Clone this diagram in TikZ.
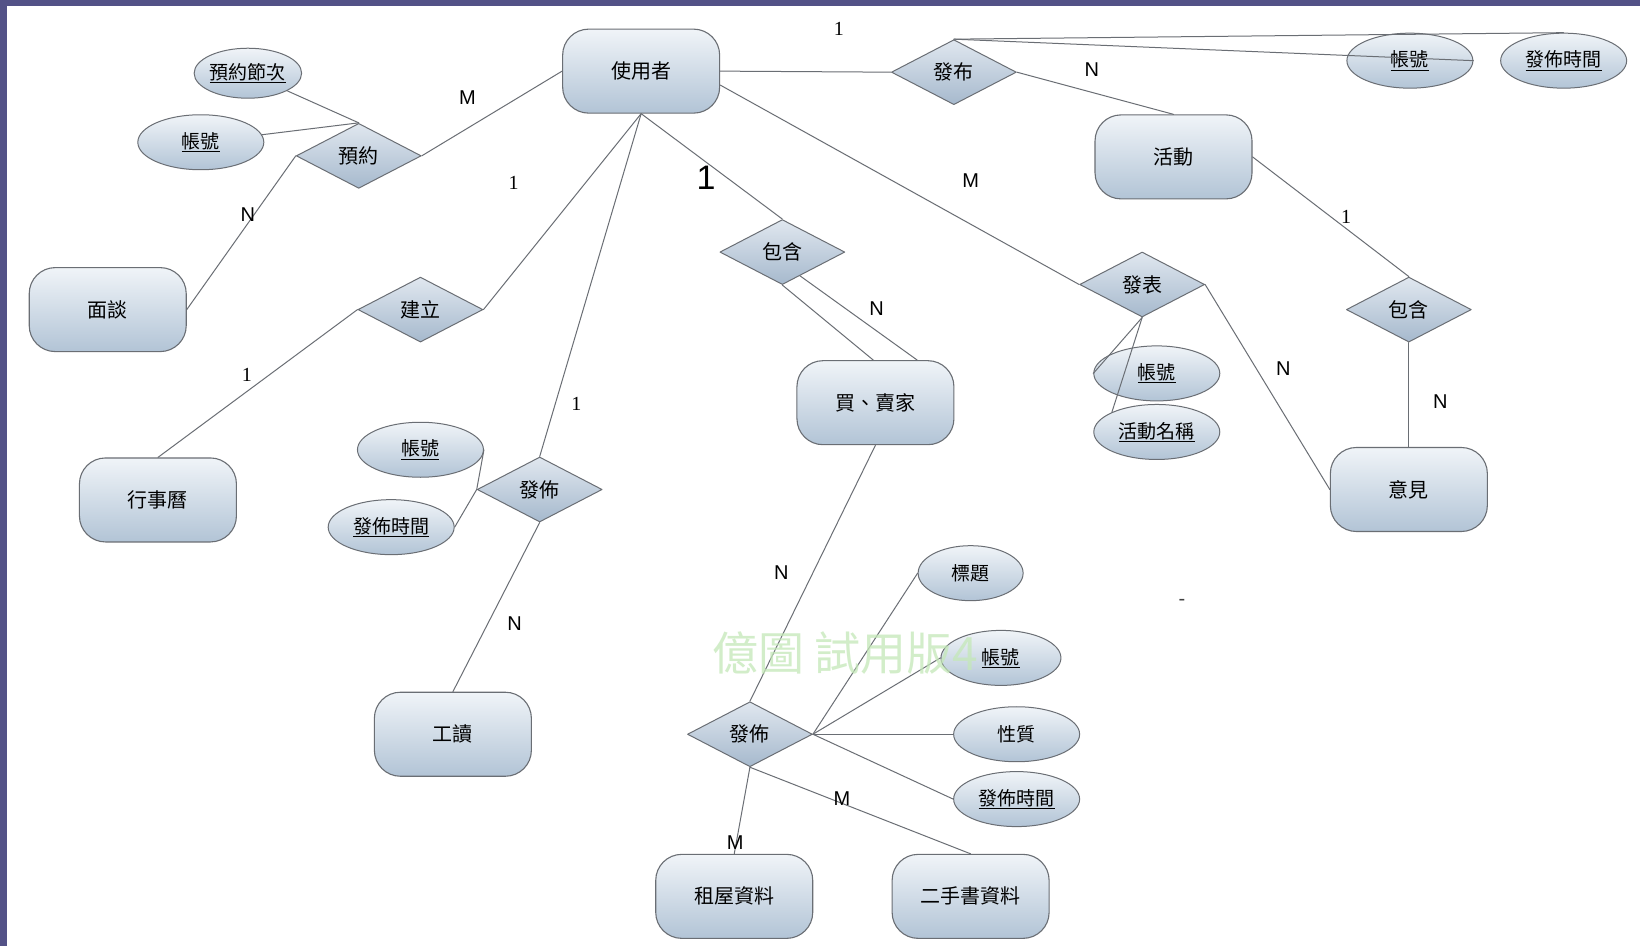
\documentclass[tikz,border=0pt]{standalone}
\usepackage{fontspec}
\newfontfamily\cjk{Noto Sans CJK TC}
\newfontfamily\lblsans{Liberation Sans}
\newfontfamily\lblserif{Liberation Serif}
\usetikzlibrary{shapes.geometric,calc}
\definecolor{frameblue}{RGB}{83,82,135}
\definecolor{edgegray}{RGB}{106,110,116}
\definecolor{shtop}{RGB}{240,244,248}
\definecolor{shbot}{RGB}{178,196,214}
\definecolor{dmtop}{RGB}{224,231,239}
\definecolor{dmbot}{RGB}{166,185,205}
\definecolor{marklight}{RGB}{196,232,184}
\tikzset{
    entity/.style={draw=edgegray, line width=1.1pt, rounded corners=26pt, top color=shtop, bottom color=shbot, minimum width=157pt, minimum height=84pt, font=\cjk\fontsize{20}{24}\selectfont},
    relation/.style={diamond, draw=edgegray, line width=1pt, top color=dmtop, bottom color=dmbot, minimum width=125pt, minimum height=65pt, inner sep=0pt, font=\cjk\fontsize{20}{24}\selectfont},
    attr/.style={ellipse, draw=edgegray, line width=1pt, top color=shtop, bottom color=shbot, minimum width=126pt, minimum height=55pt, inner sep=0pt, font=\cjk\fontsize{19}{23}\selectfont},
    link/.style={draw=edgegray, line width=1pt},
    card/.style={font=\lblsans\fontsize{20}{24}\selectfont},
    one/.style={font=\lblserif\fontsize{20}{24}\selectfont}
}
\begin{document}
\begin{tikzpicture}[x=1.046pt, y=-1.046pt, line join=round, line cap=round]
    \useasboundingbox (0,0) rectangle (1568,904);
    \fill[frameblue] (-5,-5) rectangle (1580,915);
    \fill[white] (6.5,6) rectangle (1580,915);
    % entities
    \node[entity] (user) at (613,68) {使用者};
    \node[entity] (activity) at (1122,150) {活動};
    \node[entity] (interview) at (103,296) {面談};
    \node[entity] (trader) at (837,385) {買、賣家};
    \node[entity] (calendar) at (151,478) {行事曆};
    \node[entity] (opinion) at (1347,468) {意見};
    \node[entity] (parttime) at (433,702) {工讀};
    \node[entity] (rental) at (702,857) {租屋資料};
    \node[entity] (usedbook) at (928,857) {二手書資料};
    % relations
    \node[relation] (reserve) at (343,149) {預約};
    \node[relation] (announce) at (912,69) {發布};
    \node[relation] (build) at (402,296) {建立};
    \node[relation] (containA) at (748,241) {包含};
    \node[relation] (post) at (1092,272) {發表};
    \node[relation] (containB) at (1347,296) {包含};
    \node[relation] (issueA) at (516,468) {發佈};
    \node[relation] (issueB) at (717,702) {發佈};
    % attributes
    \node[attr, minimum width=104pt, minimum height=50pt] (slot) at (237,70) {\underline{預約節次}};
    \node[attr] (acctA) at (192,136) {\underline{帳號}};
    \node[attr] (acctB) at (1348,58) {\underline{帳號}};
    \node[attr] (timeB) at (1495,58) {\underline{發佈時間}};
    \node[attr] (acctC) at (402,430) {\underline{帳號}};
    \node[attr] (timeC) at (374,504) {\underline{發佈時間}};
    \node[attr] (acctD) at (1106,357) {\underline{帳號}};
    \node[attr] (actname) at (1106,413) {\underline{活動名稱}};
    \node[attr, minimum width=105pt] (title) at (928,548) {標題};
    \node[attr, minimum width=120pt] (acctE) at (957,629) {\underline{帳號}};
    \node[attr] (nature) at (972,702) {性質};
    \node[attr] (timeE) at (972,764) {\underline{發佈時間}};
    % connectors
    \coordinate (cA) at ($(containA.south)!0.28!(containA.east)$);
    \coordinate (tA) at ($(trader.north)+(-2,0)$);
    \coordinate (tB) at ($(trader.north)+(40,0)$);
    \draw[link] (user.west) -- (reserve.east);
    \draw[link] (reserve.west) -- (interview.east);
    \draw[link] (slot) -- (reserve.north);
    \draw[link] (acctA) -- (reserve.north);
    \draw[link] (user.south) -- (build.east);
    \draw[link] (build.west) -- (calendar.north);
    \draw[link] (user.south) -- (issueA.north);
    \draw[link] (issueA.south) -- (parttime.north);
    \draw[link] (acctC.east) -- (issueA.west) -- (timeC.east);
    \draw[link] (user.south) -- (containA.north);
    \draw[link] (containA.south) -- (tA);
    \draw[link] (cA) -- (tB);
    \draw[link] (user.-10) -- (post.west);
    \draw[link] (user.east) -- (announce.west);
    \draw[link] (announce.east) -- (activity.north);
    \draw[link] (announce.north) -- (acctB.east);
    \draw[link] (announce.north) -- (timeB.north);
    \draw[link] (activity.east) -- (containB.north);
    \draw[link] (containB.south) -- (opinion.north);
    \draw[link] (post.east) -- (opinion.west);
    \draw[link] (post.south) -- (acctD.west);
    \draw[link] (post.south) -- (actname.north west);
    \draw[link] (trader.south) -- (issueB.north);
    \foreach \a in {title,acctE,nature,timeE}{\draw[link] (issueB.east) -- (\a.west);}
    \draw[link] (issueB.south) -- (rental.north);
    \draw[link] (issueB.south) -- (usedbook.north);
    % cardinalities
    \node[card] (mA) at (447,93) {M};
    \node[card] (nA) at (237,205) {N};
    \node[one] (oA) at (491,175) {1};
    \node[one] (oB) at (236,358) {1};
    \node[one] (oC) at (551,386) {1};
    \node[card] (nB) at (492,596) {N};
    \node[font=\lblsans\fontsize{34}{38}\selectfont] (oD) at (675,170) {1};
    \node[card] (nC) at (838,295) {N};
    \node[card] (mB) at (928,173) {M};
    \node[one] (oE) at (802,28) {1};
    \node[card] (nD) at (1044,67) {N};
    \node[one] (oF) at (1287,207) {1};
    \node[card] (nE) at (1377,384) {N};
    \node[card] (nF) at (1227,352) {N};
    \node[card] (nG) at (747,547) {N};
    \node[card] (mC) at (805,764) {M};
    \node[card] (mD) at (703,806) {M};
    \node[card, text=darkgray] (dash) at (1130,576) {-};
    \node[text=marklight, opacity=0.75, font=\cjk\fontsize{46}{50}\selectfont] (mark) at (808,624) {億圖 試用版4};
\end{tikzpicture}
\end{document}
